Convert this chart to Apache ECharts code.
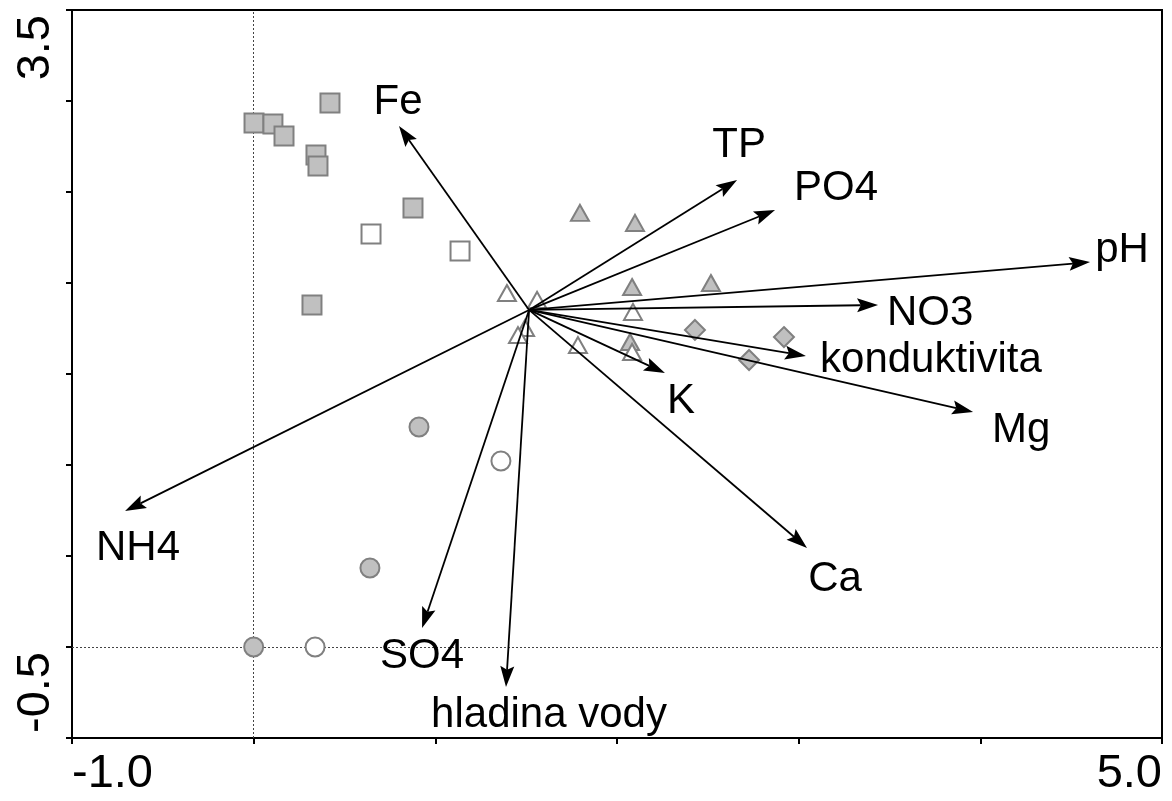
<!DOCTYPE html>
<html><head><meta charset="utf-8">
<script src="https://cdn.jsdelivr.net/npm/echarts@6/dist/echarts.min.js"></script>
<style>html,body{margin:0;padding:0;background:#fff}#c{width:1172px;height:801px}</style>
</head><body><div id="c"></div>
<script>
// ---- data ----
const xRange = [-1.0, 5.0];
const yRange = [-0.5, 3.5];
const xTickStep = 1.0;
const yTickStep = 0.5;

const envNames = ['Fe','TP','PO4','pH','NO3','konduktivita','Mg','K','Ca','NH4','SO4','hladina vody'];
const envX = [0.800, 2.661, 2.870, 4.604, 3.437, 3.040, 3.960, 2.264, 3.046, -0.708, 0.927, 1.389];
const envY = [2.863, 2.566, 2.401, 2.115, 1.879, 1.599, 1.291, 1.505, 0.544, 0.747, 0.104, -0.220];
const arrowOrigin = [1.516, 1.852];

const squareFilledX = [0.002, 0.106, 0.167, 0.420, 0.343, 0.354, 0.877, 0.321];
const squareFilledY = [2.879, 2.874, 2.808, 2.989, 2.703, 2.643, 2.412, 1.879];
const squareOpenX = [0.646, 1.136];
const squareOpenY = [2.269, 2.176];

const triangleFilledX = [1.796, 2.099, 2.083, 2.517, 2.072];
const triangleFilledY = [2.385, 2.330, 1.978, 2.000, 1.676];
const triangleOpenX = [1.394, 1.560, 2.088, 1.494, 1.455, 1.785, 2.083];
const triangleOpenY = [1.945, 1.907, 1.841, 1.753, 1.714, 1.659, 1.621];

const diamondFilledX = [2.429, 2.919, 2.727];
const diamondFilledY = [1.742, 1.703, 1.577];

const circleFilledX = [0.910, 0.640, 0.000];
const circleFilledY = [1.209, 0.434, 0.000];
const circleOpenX = [1.361, 0.338];
const circleOpenY = [1.022, 0.000];

// ---- layout / style (pixel offsets of labels from arrow tips) ----
const labelOffsets = [[-1,-24],[2,-35],[61,-22],[32,-12],[52,8],[125,4],[48,18],[16,28],[28,31],[13,37],[0,28],[43,28]];

const FONT = '"Liberation Sans", Arial, sans-serif';
const FILL = '#c0c0c0', EDGE = '#808080';

function zip(xs, ys){ return xs.map((x,i)=>[x, ys[i]]); }
function siteSeries(xs, ys, symbol, size, filled){
  return {
    type:'scatter', data: zip(xs, ys), symbol, symbolSize: size, z: 3, silent:true,
    itemStyle:{ color: filled ? FILL : '#ffffff', borderColor: EDGE, borderWidth: 2, opacity:1 }
  };
}
function fmt(v){
  const isMin = Math.abs(v - xRange[0]) < 1e-9, isMax = Math.abs(v - xRange[1]) < 1e-9;
  return (isMin || isMax) ? v.toFixed(1) : '';
}
function fmtY(v){
  const isMin = Math.abs(v - yRange[0]) < 1e-9, isMax = Math.abs(v - yRange[1]) < 1e-9;
  return (isMin || isMax) ? v.toFixed(1) : '';
}

function renderArrow(params, api){
  const o = api.coord(arrowOrigin);
  const t = api.coord([api.value(0), api.value(1)]);
  const dx = t[0]-o[0], dy = t[1]-o[1];
  const L = Math.hypot(dx, dy);
  const ux = dx/L, uy = dy/L, nx = -uy, ny = ux;
  const hl = 21, hw = 7;
  const bx = t[0]-ux*hl, by = t[1]-uy*hl;
  const nt = [t[0]-ux*hl*0.82, t[1]-uy*hl*0.82];
  const off = labelOffsets[params.dataIndex];
  return {type:'group', children:[
    {type:'line', shape:{x1:o[0], y1:o[1], x2:nt[0], y2:nt[1]}, style:{stroke:'#000', lineWidth:1.8}},
    {type:'polygon', shape:{points:[[t[0],t[1]],[bx+nx*hw, by+ny*hw], nt, [bx-nx*hw, by-ny*hw]]}, style:{fill:'#000'}},
    {type:'text', x: t[0]+off[0], y: t[1]+off[1], style:{text: envNames[params.dataIndex], font: '42px ' + FONT, fill:'#000', align:'center', verticalAlign:'middle'}}
  ]};
}

const chart = echarts.init(document.getElementById('c'), null, {renderer:'canvas'});
chart.setOption({
  animation:false,
  backgroundColor:'#fff',
  grid:{left:72, right:10, top:10, bottom:63, show:true, borderColor:'#000', borderWidth:2, backgroundColor:'transparent'},
  xAxis:{
    type:'value', min:xRange[0], max:xRange[1], interval:xTickStep,
    axisLine:{show:true, onZero:false, lineStyle:{color:'#000', width:2}},
    axisTick:{show:true, length:6, lineStyle:{color:'#000', width:2}},
    splitLine:{show:false},
    axisLabel:{formatter:fmt, fontSize:47, fontFamily:FONT, color:'#000', margin:13,
      showMinLabel:true, showMaxLabel:true, alignMinLabel:'left', alignMaxLabel:'right'}
  },
  yAxis:{
    type:'value', min:yRange[0], max:yRange[1], interval:yTickStep,
    axisLine:{show:true, onZero:false, lineStyle:{color:'#000', width:2}},
    axisTick:{show:true, length:6, lineStyle:{color:'#000', width:2}},
    splitLine:{show:false},
    axisLabel:{formatter:fmtY, fontSize:47, fontFamily:FONT, color:'#000', margin:12, rotate:90,
      padding:[0,5,0,5],
      showMinLabel:true, showMaxLabel:true, alignMinLabel:'left', alignMaxLabel:'right'}
  },
  series:[
    {type:'scatter', data:[], silent:true, z:1,
      markLine:{silent:true, symbol:['none','none'], label:{show:false}, z:1,
        lineStyle:{color:'#444', type:[2,2], width:1},
        data:[{xAxis:0},{yAxis:0}]}},
    siteSeries(squareFilledX, squareFilledY, 'rect', 19, true),
    siteSeries(squareOpenX, squareOpenY, 'rect', 19, false),
    siteSeries(triangleFilledX, triangleFilledY, 'triangle', [18,16], true),
    siteSeries(triangleOpenX, triangleOpenY, 'triangle', [18,16], false),
    siteSeries(diamondFilledX, diamondFilledY, 'diamond', 20, true),
    siteSeries(circleFilledX, circleFilledY, 'circle', 19, true),
    siteSeries(circleOpenX, circleOpenY, 'circle', 19, false),
    {type:'custom', renderItem:renderArrow, data: zip(envX, envY), z:5, clip:false, silent:true,
      encode:{x:0, y:1}}
  ]
});
</script></body></html>
